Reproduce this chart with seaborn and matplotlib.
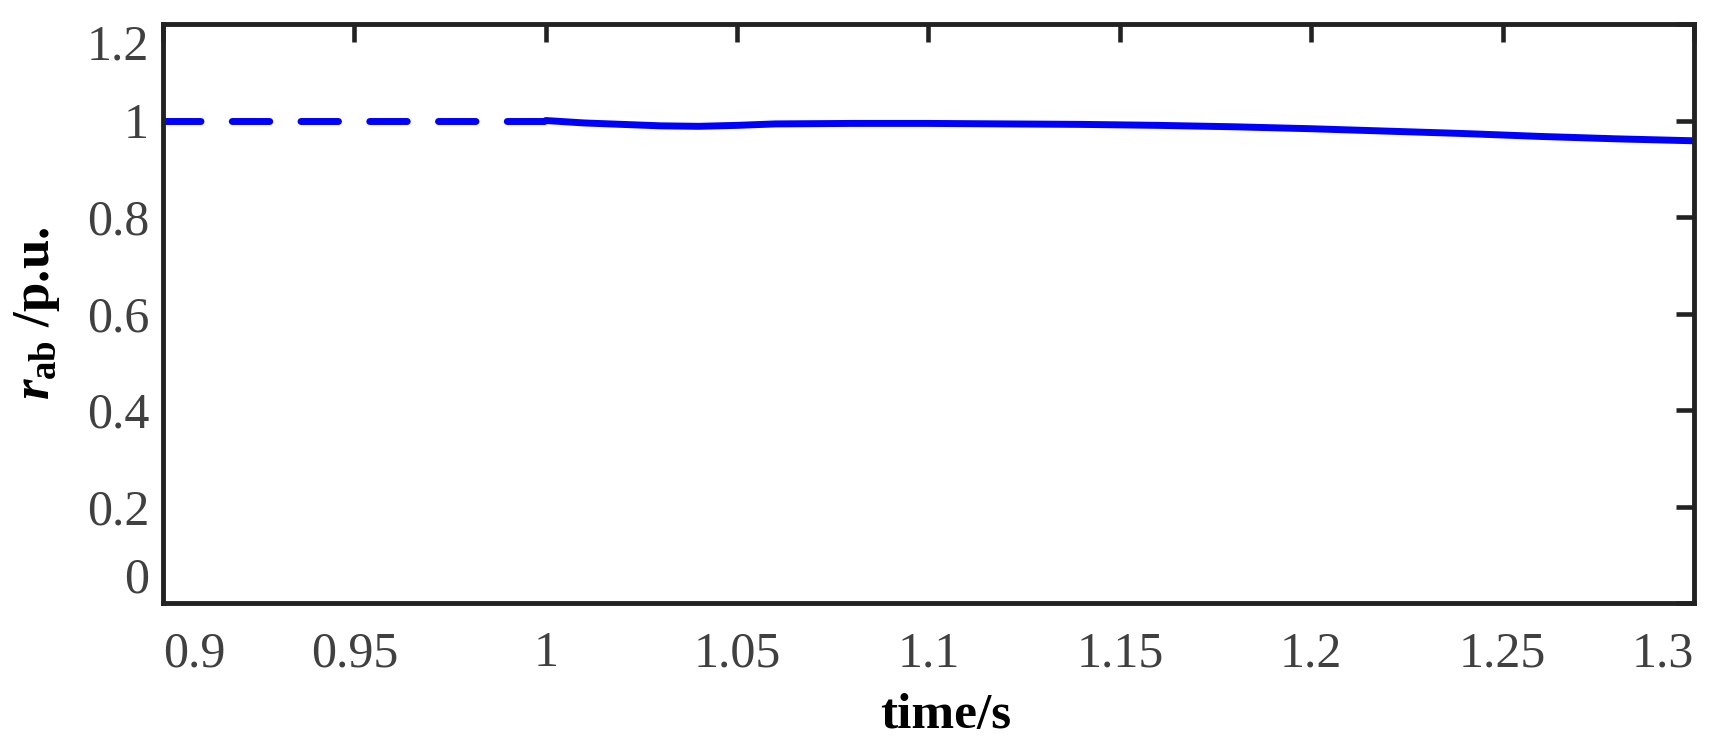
"""
r_ab response around the disturbance at t = 1 s (seaborn re-draw).
Saves out.png (1730x744).
"""

import matplotlib
matplotlib.use("Agg")  # no display
import matplotlib.pyplot as plt
import pandas as pd
import seaborn as sns

# --------------------------------------------------------------------------- #
# Data
# --------------------------------------------------------------------------- #
t_pre = [0.9, 1.0]
r_pre = [1.0, 1.0]

t_post = [1.0, 1.01, 1.02, 1.03, 1.04, 1.05, 1.06, 1.08, 1.10, 1.12,
          1.14, 1.16, 1.18, 1.20, 1.22, 1.24, 1.26, 1.28, 1.30]
r_post = [1.0, 0.995, 0.992, 0.989, 0.988, 0.990, 0.993, 0.994, 0.994, 0.993,
          0.992, 0.990, 0.987, 0.983, 0.978, 0.973, 0.967, 0.962, 0.958]

x_ticks = [0.9, 0.95, 1.0, 1.05, 1.1, 1.15, 1.2, 1.25, 1.3]
x_ticklabels = ["0.9", "0.95", "1", "1.05", "1.1", "1.15", "1.2", "1.25", "1.3"]
y_ticks = [0, 0.2, 0.4, 0.6, 0.8, 1.0, 1.2]
y_ticklabels = ["0", "0.2", "0.4", "0.6", "0.8", "1", "1.2"]

# --------------------------------------------------------------------------- #
# Style
# --------------------------------------------------------------------------- #
sns.set_style("white")
plt.rcParams["font.family"] = ["Liberation Serif", "DejaVu Serif"]
plt.rcParams["mathtext.fontset"] = "custom"
plt.rcParams["mathtext.rm"] = "Liberation Serif:bold"
plt.rcParams["mathtext.bf"] = "Liberation Serif:bold"
plt.rcParams["mathtext.it"] = "Liberation Serif:italic:bold"

LINE_COLOR = "#0000ff"
AXIS_COLOR = "#222222"
TICK_TEXT = "#404040"
LW = 5.0

pre_df = pd.DataFrame({"t": t_pre, "r": r_pre})
post_df = pd.DataFrame({"t": t_post, "r": r_post})

fig = plt.figure(figsize=(17.3, 7.44), dpi=100)
ax = fig.add_axes([0.0942, 0.1895, 0.8850, 0.7782])

sns.lineplot(data=pre_df, x="t", y="r", ax=ax, color=LINE_COLOR,
             linewidth=LW, solid_capstyle="round")
ax.lines[-1].set_dashes([5.4, 4.5])
ax.lines[-1].set_dash_capstyle("round")
sns.lineplot(data=post_df, x="t", y="r", ax=ax, color=LINE_COLOR,
             linewidth=LW, solid_capstyle="round")

ax.set_xlim(0.9, 1.3)
ax.set_ylim(0, 1.2)
ax.set_xticks(x_ticks)
ax.set_xticklabels(x_ticklabels)
ax.set_yticks(y_ticks)
ax.set_yticklabels(y_ticklabels)

ax.tick_params(axis="both", direction="in", length=13, width=3.3,
               color=AXIS_COLOR, labelcolor=TICK_TEXT, labelsize=36,
               top=True, right=True)
ax.tick_params(axis="x", pad=20)
ax.tick_params(axis="y", pad=10)

# keep the end labels inside the axes extent, like the original
xl = ax.get_xticklabels()
xl[0].set_ha("left")
xl[-1].set_ha("right")
yl = ax.get_yticklabels()
yl[0].set_va("bottom")
yl[-1].set_va("top")

for side in ["left", "right", "top", "bottom"]:
    ax.spines[side].set_visible(True)
    ax.spines[side].set_color(AXIS_COLOR)
    ax.spines[side].set_linewidth(3.5)

ax.set_xlabel("time/s", fontsize=37, fontweight="bold", color="black")
ax.set_ylabel(r"$r_{\mathrm{ab}}$ /p.u.", fontsize=38, fontweight="bold",
              color="black")
ax.xaxis.set_label_coords(0.511, -0.155)
ax.yaxis.set_label_coords(-0.066, 0.5)

fig.savefig("out.png", dpi=100)
plt.close(fig)
